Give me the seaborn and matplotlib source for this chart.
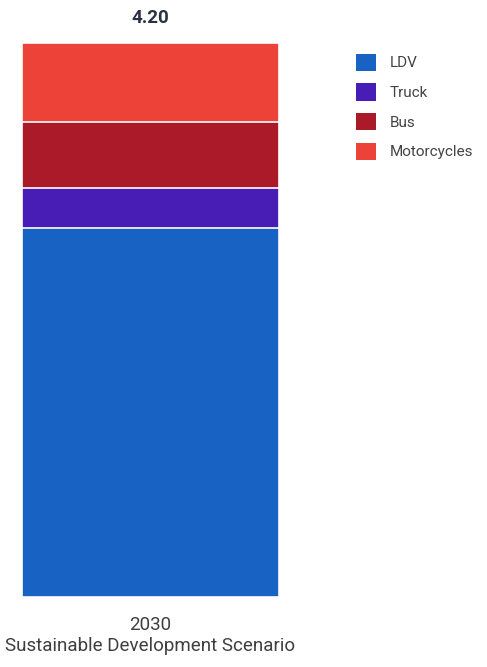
import matplotlib.pyplot as plt
import numpy as np
import pandas as pd
import seaborn as sns
from matplotlib.patches import Patch

# Define width and height of the plot (pixels)
WIDTH = 487
HEIGHT = 667

# Data
CATEGORY = "2030\nSustainable Development Scenario"
SEGMENTS = ["LDV", "Truck", "Bus", "Motorcycles"]
VALUES = [2.80, 0.30, 0.50, 0.60]
COLORS = ["#1762C2", "#471DB5", "#AB1A29", "#EC4238"]

TOTAL = sum(VALUES)

sns.set_theme(style="white")
plt.rcParams["font.family"] = ["Roboto", "DejaVu Sans"]

fig = plt.figure(figsize=(WIDTH / 100, HEIGHT / 100), dpi=100)
ax = fig.add_axes([22 / WIDTH, 70 / HEIGHT, 257 / WIDTH, 554 / HEIGHT])

# Stacked bar: draw cumulative totals from the top down
cum = np.cumsum(VALUES)
for i in range(len(SEGMENTS) - 1, -1, -1):
    df = pd.DataFrame({"scenario": [CATEGORY], "value": [cum[i]]})
    sns.barplot(
        data=df,
        x="scenario",
        y="value",
        color=COLORS[i],
        saturation=1,
        width=1.0,
        edgecolor="white",
        linewidth=1.2,
        ax=ax,
    )

ax.set_xlim(-0.5, 0.5)
ax.set_ylim(0, TOTAL)
ax.set_xlabel("")
ax.set_ylabel("")
ax.set_yticks([])
ax.tick_params(axis="x", length=0, pad=14, labelsize=13.5, labelcolor="#3f3f3f")
sns.despine(ax=ax, left=True, bottom=True)

# Total label above the bar
ax.text(
    0, TOTAL + 0.12, f"{TOTAL:.2f}",
    ha="center", va="bottom", fontsize=13.5, fontweight="bold",
    color="#2B3245", clip_on=False,
)

# Legend
handles = [Patch(facecolor=c, edgecolor="none") for c in COLORS]
fig.legend(
    handles, SEGMENTS,
    loc="upper left",
    bbox_to_anchor=(342 / WIDTH, 1 - 40 / HEIGHT),
    frameon=False,
    fontsize=11,
    handlelength=1.35,
    handleheight=1.35,
    handletextpad=0.85,
    labelspacing=0.82,
    labelcolor="#444444",
)

fig.savefig("out.png", dpi=100, facecolor="white")
